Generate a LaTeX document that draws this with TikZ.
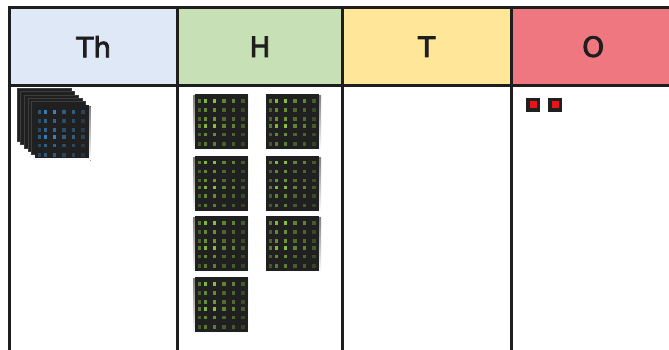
\documentclass[tikz,border=0pt]{standalone}
\usepackage{fontspec}
\setmainfont{DejaVu Sans}[FakeBold=3]
\definecolor{gridline}{HTML}{1E1E1E}
\definecolor{thfill}{HTML}{DEE8F6}
\definecolor{hfill}{HTML}{C8E0B5}
\definecolor{tfill}{HTML}{FFE699}
\definecolor{ofill}{HTML}{EF7880}
\definecolor{chip}{HTML}{1F201F}
\definecolor{lime}{HTML}{8DC63F}
\definecolor{sky}{HTML}{3A86C8}
\definecolor{chipred}{HTML}{E8141C}
\definecolor{shade}{HTML}{D2D2D2}
\definecolor{layeredge}{HTML}{3C3D3C}

\tikzset{
  grid line/.style={draw=gridline, line width=3bp},
  headcell/.style={anchor=north west, inner sep=0pt, minimum height=78bp,
    font=\fontsize{28}{28}\selectfont, text=gridline},
  layer/.style={fill=chip, draw=layeredge, line width=0.6bp},
  tinychip/.style={fill=chip, inner sep=0pt, minimum size=14bp, anchor=north west},
  tinycore/.style={fill=chipred, inner sep=0pt, minimum size=7bp},
  % dark square with a 6x6 grid of lit dots of varying brightness
  pics/chip/.style n args={3}{code={
    \fill[chip] (0,0) rectangle (#1,#2);
    \foreach \dx/\cw in {4.5/55,10.5/90,19.5/95,29/60,38.5/60,48/35}{
      \foreach \dy/\rw in {7/100,16/70,25/75,32/100,40.5/70,50/60}{
        \pgfmathtruncatemacro\lvl{\cw*\rw/100}
        \fill[#3!\lvl!chip] (\dx-1.9,\dy-1.9) rectangle ++(3.8,3.8);
      }}
  }},
}

\begin{document}
\begin{tikzpicture}[x=1bp,y=-1bp]
\path[use as bounding box, clip] (0,0) rectangle (669,349);

% header cells
\node[headcell, fill=thfill, minimum width=168bp]   (th) at (9.5,7.5)  {Th};
\node[headcell, fill=hfill,  minimum width=164.5bp] (h)  at (177.5,7.5) {H};
\node[headcell, fill=tfill,  minimum width=169bp]   (t)  at (342,7.5)  {T};
\node[headcell, fill=ofill,  minimum width=162bp]   (o)  at (511,7.5)  {\hspace*{2bp}O};

% table rules
\draw[grid line] ([xshift=-1.5bp]th.north west) -- ([xshift=10bp]o.north east);
\draw[grid line] ([xshift=-1.5bp]th.south west) -- ([xshift=10bp]o.south east);
\coordinate (bot0) at (9.5,360);
\coordinate (bot1) at (177.5,360);
\coordinate (bot2) at (342,360);
\coordinate (bot3) at (511,360);
\draw[grid line] (th.north west) -- (bot0);
\draw[grid line] (h.north west)  -- (bot1);
\draw[grid line] (t.north west)  -- (bot2);
\draw[grid line] (o.north west)  -- (bot3);

% Th: stacked layers, front layer with blue dots
\fill[shade] (33,106) rectangle (90.5,160.5);
\foreach \i in {5,4,3,2,1}{
  \draw[layer] (35-3.6*\i,105-3.4*\i) rectangle ++(54,53);
}
\pic (thfront) at (35,105) {chip={54}{53}{sky}};

% H: seven green-dotted squares with soft shadows
\foreach \y/\n in {94/1,155.5/2,216/3,277/4}{
  \fill[shade] (193,\y+1.5) rectangle ++(55,55);
  \pic (hl\n) at (195,\y) {chip={53}{55}{lime}};
}
\foreach \y/\n in {94/1,155.5/2,216/3}{
  \fill[shade] (266,\y+1.5) rectangle ++(55,55);
  \pic (hr\n) at (266,\y) {chip={53}{55}{lime}};
}

% O: two small red-core squares
\node[tinychip] (o1) at (526,97.5) {};
\node[tinycore] at (o1.center) {};
\node[tinychip] (o2) at (548,97.5) {};
\node[tinycore] at (o2.center) {};
\end{tikzpicture}
\end{document}
